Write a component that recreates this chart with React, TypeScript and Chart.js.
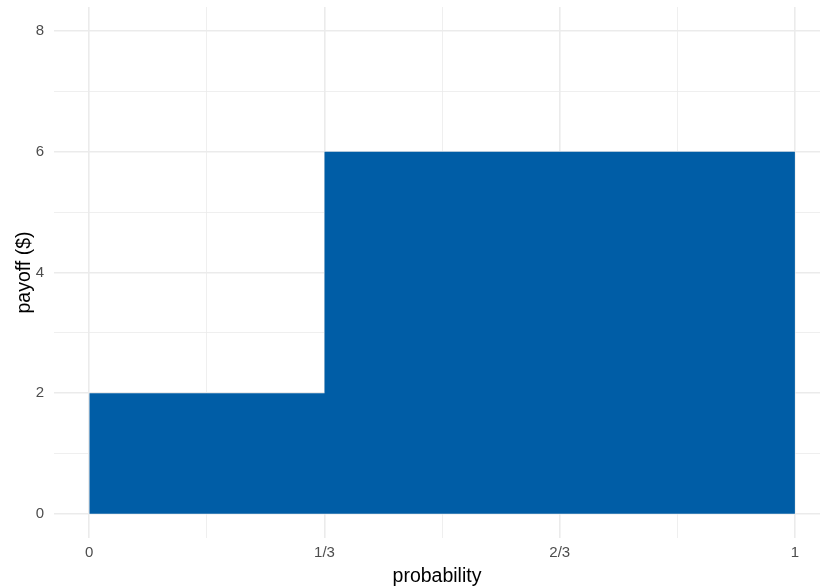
import React, { useEffect, useRef } from "react";
import { Chart, registerables } from "chart.js";

Chart.register(...registerables);

const stepX = [0, 1 / 3, 1];
const payoff = [2, 6, 6];
const xMajor = [0, 1 / 3, 2 / 3, 1];
const xMajorLabels = ["0", "1/3", "2/3", "1"];
const xMinor = [1 / 6, 1 / 2, 5 / 6];
const yMajor = [0, 2, 4, 6, 8];
const yMinor = [1, 3, 5, 7];

const FONT = "'Liberation Sans', Arial, Helvetica, sans-serif";
const GRID = "#EBEBEB";

export default function App() {
  const ref = useRef<HTMLCanvasElement>(null);
  useEffect(() => {
    const ctx = ref.current!;
    const isMajor = (arr: number[], v: number) => arr.some((m) => Math.abs(m - v) < 1e-9);
    const chart = new Chart(ctx, {
      type: "line",
      data: {
        datasets: [
          {
            data: stepX.map((x, i) => ({ x, y: payoff[i] })),
            stepped: "before",
            fill: "origin",
            backgroundColor: "#005DA6",
            borderColor: "#005DA6",
            borderWidth: 0,
            pointRadius: 0,
          },
        ],
      },
      options: {
        animation: false,
        responsive: false,
        layout: { padding: { top: 7, right: 0, left: 0, bottom: 0 } },
        plugins: { legend: { display: false }, tooltip: { enabled: false } },
        scales: {
          x: {
            type: "linear",
            min: -0.05,
            max: 1.0355,
            afterBuildTicks: (s: any) => {
              s.ticks = [...xMajor, ...xMinor].sort((a, b) => a - b).map((v) => ({ value: v }));
            },
            afterFit: (s: any) => {
              s.height = 50;
              s.paddingLeft = 0;
              s.paddingRight = 0;
            },
            ticks: {
              autoSkip: false,
              maxRotation: 0,
              padding: 6,
              color: "#4D4D4D",
              font: { family: FONT, size: 15 },
              callback: (v: any) => {
                const i = xMajor.findIndex((m) => Math.abs(m - v) < 1e-9);
                return i >= 0 ? xMajorLabels[i] : "";
              },
            },
            grid: {
              drawTicks: false,
              tickLength: 0,
              color: GRID,
              lineWidth: (c: any) => (isMajor(xMajor, c.tick?.value) ? 1.6 : 0.8),
            },
            border: { display: false },
            title: {
              display: true,
              text: "probability",
              color: "#000000",
              font: { family: FONT, size: 19.5 },
              padding: { top: 0, bottom: 0 },
            },
          },
          y: {
            type: "linear",
            min: -0.4,
            max: 8.4,
            afterBuildTicks: (s: any) => {
              s.ticks = [...yMajor, ...yMinor].sort((a, b) => a - b).map((v) => ({ value: v }));
            },
            afterFit: (s: any) => {
              s.width = 54;
              s.paddingTop = 0;
              s.paddingBottom = 0;
            },
            ticks: {
              autoSkip: false,
              padding: 10,
              color: "#4D4D4D",
              font: { family: FONT, size: 15 },
              callback: (v: any) => (isMajor(yMajor, v) ? String(v) : ""),
            },
            grid: {
              drawTicks: false,
              tickLength: 0,
              color: GRID,
              lineWidth: (c: any) => (isMajor(yMajor, c.tick?.value) ? 1.6 : 0.8),
            },
            border: { display: false },
            title: {
              display: true,
              text: "payoff ($)",
              color: "#000000",
              font: { family: FONT, size: 19.5 },
              padding: { top: 13, bottom: 0 },
            },
          },
        },
      },
    });
    return () => chart.destroy();
  }, []);
  return (
    <div style={{ position: "fixed", left: 0, top: 0, width: 820, height: 588, background: "#fff" }}>
      <canvas ref={ref} width={820} height={588} style={{ width: 820, height: 588 }} />
    </div>
  );
}
